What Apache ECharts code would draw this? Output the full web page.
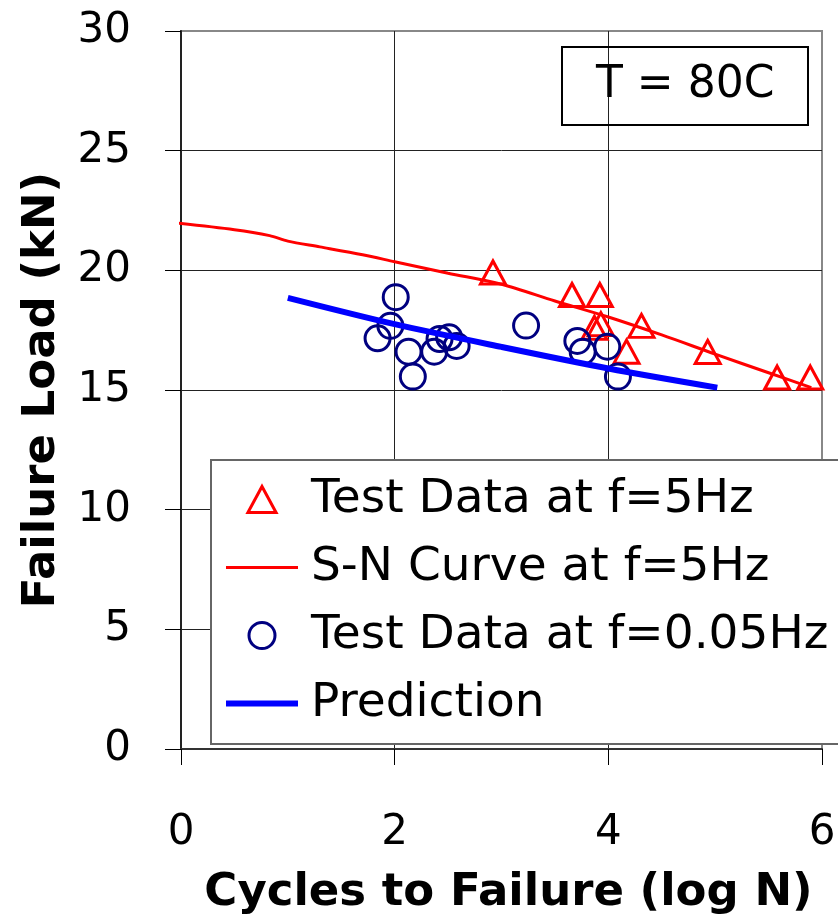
<!DOCTYPE html>
<html>
<head>
<meta charset="utf-8">
<script src="https://cdn.jsdelivr.net/npm/echarts@6/dist/echarts.min.js"></script>
<style>
  html, body { margin: 0; padding: 0; background: #fff; }
  #chart { width: 838px; height: 920px; }
</style>
</head>
<body>
<div id="chart"></div>
<script>
// chart init
var chart = echarts.init(document.getElementById('chart'));

// test data at f=5Hz (triangles)
var triX = [2.92, 3.66, 3.92, 3.87, 3.93, 4.31, 4.17, 4.93, 5.58, 5.89];
var triY = [19.91, 18.97, 18.97, 17.6, 17.75, 17.68, 16.6, 16.59, 15.52, 15.52];

// S-N curve at f=5Hz
var snX = [-0.13, 0.5, 0.83, 1.0, 1.3, 1.7, 2.0, 2.5, 3.0, 3.5, 4.0, 4.5, 5.0, 5.5, 5.9];
var snY = [22.02, 21.7, 21.45, 21.22, 20.98, 20.65, 20.36, 19.88, 19.42, 18.72, 18.05, 17.3, 16.5, 15.72, 15.1];

// test data at f=0.05Hz (circles)
var circX = [2.01, 1.96, 1.84, 2.13, 2.17, 2.42, 2.51, 2.37, 2.58, 3.23, 3.71, 3.76, 3.99, 4.09];
var circY = [18.88, 17.68, 17.16, 16.6, 15.56, 17.13, 17.2, 16.6, 16.84, 17.69, 17.05, 16.6, 16.81, 15.56];

// prediction line
var predX = [1.0, 2.0, 3.0, 4.0, 5.02];
var predY = [18.85, 17.75, 16.8, 15.9, 15.1];

var names = ['Test Data at f=5Hz', 'S-N Curve at f=5Hz', 'Test Data at f=0.05Hz', 'Prediction'];

function pairs(xs, ys) {
  var out = [];
  for (var i = 0; i < xs.length; i++) {
    out.push([xs[i], ys[i]]);
  }
  return out;
}

var font = 'DejaVu Sans';

var option = {
  animation: false,
  backgroundColor: '#fff',
  title: {
    text: 'T = 80C',
    left: 562,
    top: 47,
    padding: [17, 34],
    borderColor: '#000',
    borderWidth: 2,
    textStyle: { fontFamily: font, fontSize: 44, fontWeight: 'normal', color: '#000' }
  },
  grid: {
    left: 181,
    right: 16,
    top: 31,
    bottom: 171,
    containLabel: false,
    outerBoundsMode: 'none',
    show: true,
    borderColor: '#888',
    borderWidth: 2,
    backgroundColor: 'transparent'
  },
  legend: {
    orient: 'vertical',
    left: 211,
    top: 460,
    padding: [16, 20, 17, 15],
    itemGap: 21,
    itemWidth: 72,
    itemHeight: 26,
    symbolKeepAspect: true,
    backgroundColor: '#fff',
    borderColor: '#666',
    borderWidth: 2,
    // text sits a bit further from the icons than the default gap
    textStyle: { fontFamily: font, fontSize: 47, color: '#000', padding: [0, 0, 0, 8] },
    itemStyle: { borderWidth: 3 },
    data: [
      { name: names[0], icon: 'path://M13,0 L26,24 L0,24 Z' },
      { name: names[1], icon: 'path://M0,0 L72,0 L72,3 L0,3 Z', itemStyle: { borderWidth: 0 } },
      { name: names[2], icon: 'circle' },
      { name: names[3], icon: 'path://M0,0 L72,0 L72,6 L0,6 Z', itemStyle: { borderWidth: 0 } }
    ]
  },
  xAxis: {
    type: 'value',
    min: 0,
    max: 6,
    interval: 2,
    name: 'Cycles to Failure (log N)',
    nameLocation: 'middle',
    nameGap: 122,
    nameTextStyle: { fontFamily: font, fontSize: 45, fontWeight: 'bold', color: '#000', padding: [0, 0, 0, 14] },
    axisLine: { show: true, onZero: false, lineStyle: { color: '#333', width: 2 } },
    axisTick: { show: true, inside: false, length: 16, lineStyle: { color: '#000', width: 1 } },
    axisLabel: { margin: 63, fontFamily: font, fontSize: 42, color: '#000' },
    splitLine: { show: true, showMinLine: false, showMaxLine: false, lineStyle: { color: '#222', width: 1 } }
  },
  yAxis: {
    type: 'value',
    min: 0,
    max: 30,
    interval: 5,
    name: 'Failure Load (kN)',
    nameLocation: 'middle',
    nameGap: 116,
    nameTextStyle: { fontFamily: font, fontSize: 45, fontWeight: 'bold', color: '#000' },
    axisLine: { show: true, onZero: false, lineStyle: { color: '#222', width: 2 } },
    axisTick: { show: true, inside: false, length: 16, lineStyle: { color: '#000', width: 1 } },
    axisLabel: { margin: 50, fontFamily: font, fontSize: 42, color: '#000' },
    splitLine: { show: true, showMinLine: false, showMaxLine: false, lineStyle: { color: '#222', width: 1 } }
  },
  series: [
    {
      name: names[0],
      type: 'scatter',
      symbol: 'triangle',
      symbolSize: [25, 23],
      itemStyle: { color: 'rgba(255,255,255,0)', borderColor: '#ff0000', borderWidth: 3, opacity: 1 },
      data: pairs(triX, triY),
      z: 2
    },
    {
      name: names[2],
      type: 'scatter',
      symbol: 'circle',
      symbolSize: 25,
      itemStyle: { color: 'rgba(255,255,255,0)', borderColor: '#000080', borderWidth: 3, opacity: 1 },
      data: pairs(circX, circY),
      z: 2
    },
    {
      name: names[1],
      type: 'line',
      smooth: 0.3,
      symbol: 'none',
      clip: false,
      lineStyle: { color: '#ff0000', width: 3 },
      itemStyle: { color: '#ff0000' },
      data: pairs(snX, snY),
      z: 3
    },
    {
      name: names[3],
      type: 'line',
      smooth: 0.3,
      symbol: 'none',
      lineStyle: { color: '#0000ff', width: 6 },
      itemStyle: { color: '#0000ff' },
      data: pairs(predX, predY),
      z: 3
    }
  ]
};

chart.setOption(option);
</script>
</body>
</html>
